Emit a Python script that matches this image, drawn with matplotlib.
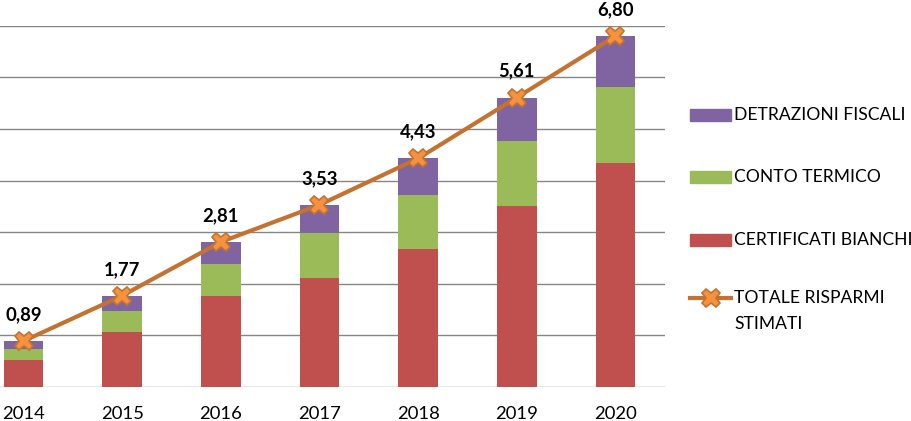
import matplotlib
matplotlib.use("Agg")
import matplotlib.pyplot as plt
from matplotlib.patches import Rectangle
from matplotlib.lines import Line2D
import numpy as np

years = ["2014", "2015", "2016", "2017", "2018", "2019", "2020"]
certificati = [0.52, 1.07, 1.76, 2.11, 2.67, 3.51, 4.34]
conto = [0.22, 0.40, 0.62, 0.87, 1.05, 1.26, 1.47]
detrazioni = [0.15, 0.30, 0.43, 0.55, 0.71, 0.84, 0.99]
totale = [0.89, 1.77, 2.81, 3.53, 4.43, 5.61, 6.80]
total_labels = ["0,89", "1,77", "2,81", "3,53", "4,43", "5,61", "6,80"]
legend_labels = ["DETRAZIONI FISCALI", "CONTO TERMICO", "CERTIFICATI BIANCHI", "TOTALE RISPARMI\nSTIMATI"]

C_RED = "#C0504D"
C_GREEN = "#9BBB59"
C_PURPLE = "#8064A2"
C_LINE = "#C4722F"
C_MARK = "#F59240"

plt.rcParams['font.family'] = ['Lato', 'DejaVu Sans']

W, H = 912, 421
fig = plt.figure(figsize=(W / 100, H / 100), dpi=100)
ax = fig.add_axes([-25.8 / W, (H - 387) / H, 690.6 / W, (387 - 25.8) / H])

x = np.arange(len(years))
bw = 0.4
ax.bar(x, certificati, bw, color=C_RED, zorder=2)
ax.bar(x, conto, bw, bottom=certificati, color=C_GREEN, zorder=2)
b2 = np.array(certificati) + np.array(conto)
ax.bar(x, detrazioni, bw, bottom=b2, color=C_PURPLE, zorder=2)
ax.plot(x, totale, color=C_LINE, lw=3, marker='X', markersize=13,
        markerfacecolor=C_MARK, markeredgecolor=C_LINE, markeredgewidth=1.2, zorder=3)

for xi, v, lab in zip(x, totale, total_labels):
    ax.annotate(lab, (xi, v), xytext=(0, 19), textcoords='offset points',
                ha='center', va='center', fontsize=13.3, fontweight='bold',
                color='#000000', annotation_clip=False)

ax.set_xlim(-0.5, 6.5)
ax.set_ylim(0, 7)
ax.set_yticks(np.arange(0, 8, 1))
ax.yaxis.grid(True, color='#868686', lw=1, zorder=0)
ax.set_axisbelow(True)
ax.tick_params(axis='y', left=False, labelleft=False)
ax.tick_params(axis='x', bottom=False, labelsize=13.3, pad=10)
ax.set_xticks(x)
ax.set_xticklabels(years)
for s in ax.spines.values():
    s.set_visible(False)

# legend drawn manually in figure pixel coordinates
def fx(px):
    return px / W

def fy(py):
    return (H - py) / H

LFS = 12.6
rows = [115, 177, 240, 298]
cols = [C_PURPLE, C_GREEN, C_RED]
for r, c, lab in zip(rows[:3], cols, legend_labels[:3]):
    fig.add_artist(Rectangle((fx(690), fy(r + 6)), 41 / W, 12 / H, color=c, transform=fig.transFigure))
    fig.text(fx(734), fy(r), lab, fontsize=LFS, va='center', ha='left')
fig.add_artist(Line2D([fx(690), fx(731)], [fy(298), fy(298)], color=C_LINE, lw=3,
                      transform=fig.transFigure))
fig.add_artist(Line2D([fx(710.5)], [fy(298)], marker='X', markersize=13, color=C_LINE,
                      markerfacecolor=C_MARK, markeredgecolor=C_LINE, markeredgewidth=1.2,
                      transform=fig.transFigure))
line1, line2 = legend_labels[3].split("\n")
fig.text(fx(734), fy(298), line1, fontsize=LFS, va='center', ha='left')
fig.text(fx(734), fy(324), line2, fontsize=LFS, va='center', ha='left')

fig.savefig("out.png", dpi=100)
